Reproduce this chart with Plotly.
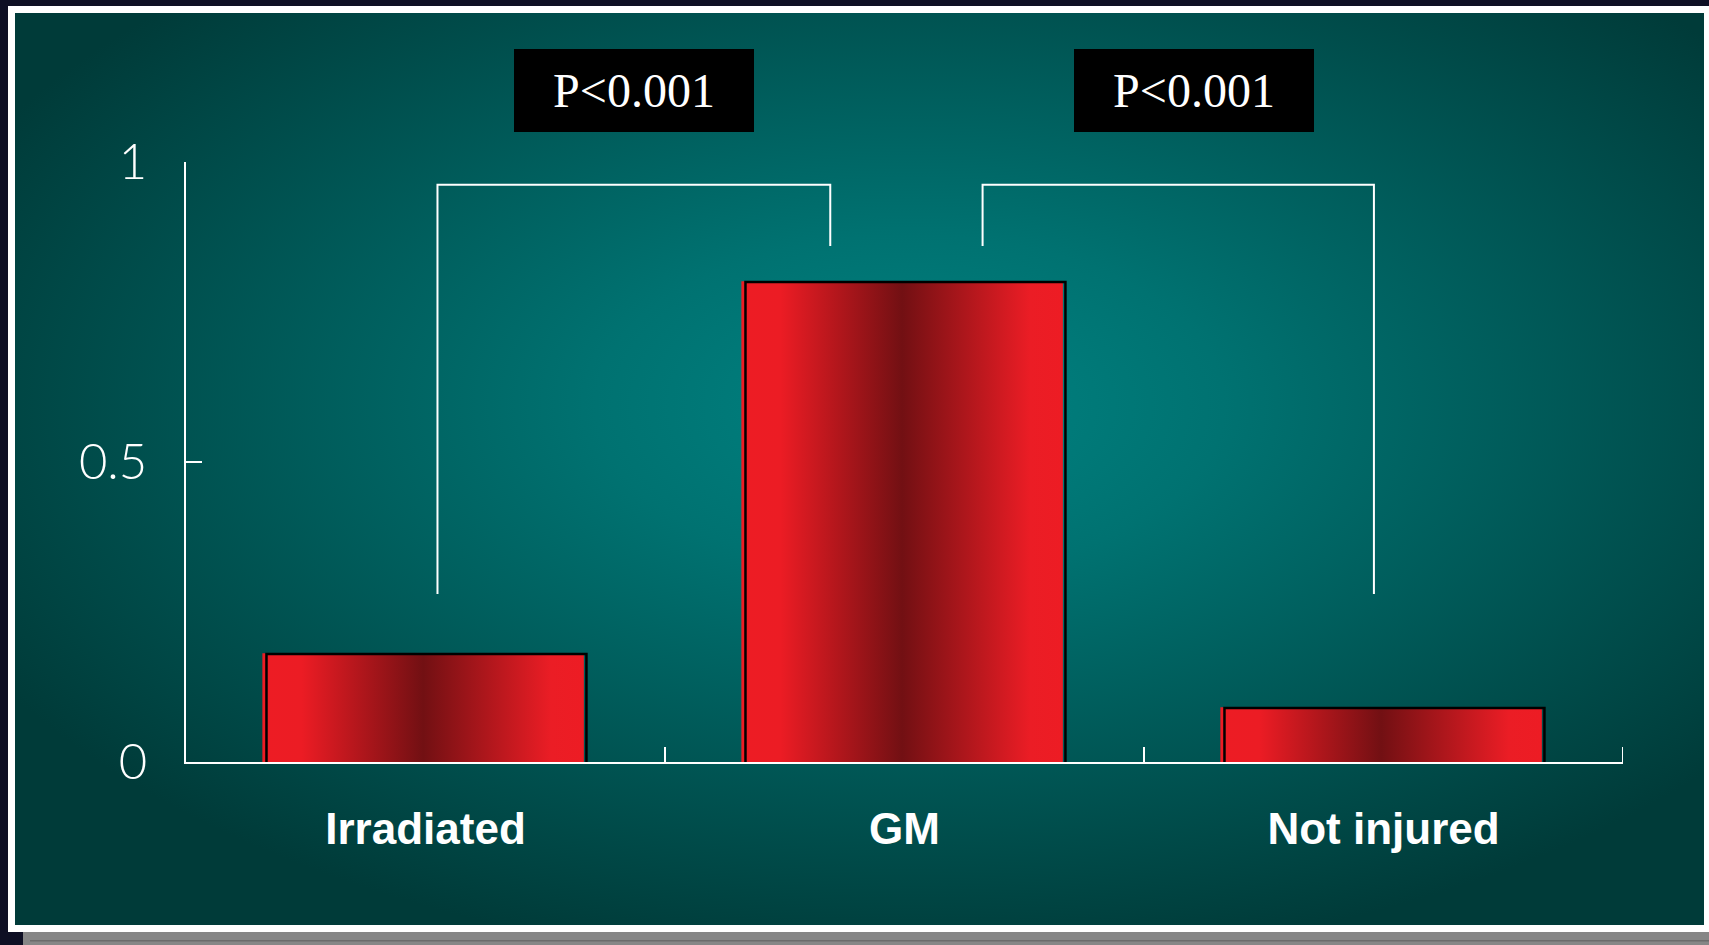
import base64
import plotly.graph_objects as go

# ---------------- data ----------------
categories = ["Irradiated", "GM", "Not injured"]
values = [0.18, 0.80, 0.09]
y_tickvals = [0, 0.5, 1]
y_ticktext = ["0", "0.5", "1"]
p_labels = ["P<0.001", "P<0.001"]
comparisons = [(0, 1), (1, 2)]
bracket_leg_ends = [(0.28, 0.86), (0.86, 0.28)]
bracket_top = 0.962

# ---------------- style ----------------
W, H = 1709, 945
ML, MR, MT, MB = 186, 86, 162, 183
PW, PH = W - ML - MR, H - MT - MB
BAR_W = 0.668
FILL_SHIFT = -0.005
OUTLINE_SHIFT = 0.002
bracket_x_offsets = [(0.025, -0.155), (0.163, -0.02)]
label_x_shift = [0.0, 0.033]

# background (frame + radial teal gradient) as an SVG image
svg = f'''<svg xmlns="http://www.w3.org/2000/svg" width="{W}" height="{H}" viewBox="0 0 {W} {H}">
<defs><radialGradient id="g" cx="0.53" cy="0.43" r="0.62">
<stop offset="0" stop-color="#008382"/>
<stop offset="0.3" stop-color="#007271"/>
<stop offset="1" stop-color="#003b39"/>
</radialGradient></defs>
<rect width="{W}" height="{H}" fill="#0e0f24"/>
<rect x="23" y="932" width="{W-23}" height="13" fill="#868686"/>
<rect x="30" y="940" width="{W-30}" height="1.5" fill="#6b6b6b"/>
<rect x="8" y="6" width="{W-8}" height="926" fill="#ffffff"/>
<rect x="15" y="13" width="1689" height="912" fill="url(#g)"/>
</svg>'''
bg_uri = "data:image/svg+xml;base64," + base64.b64encode(svg.encode()).decode()

red_scale = [[0, "#ed1c24"], [0.12, "#ec1c24"], [0.5, "#721013"],
             [0.9, "#eb1d25"], [1, "#ed1c24"]]

fig = go.Figure()

# base bars (categorical axis)
fig.add_trace(go.Bar(
    x=categories, y=values, width=BAR_W, offset=-BAR_W / 2 + FILL_SHIFT,
    marker=dict(color="#ed1c24", line=dict(color="#ed1c24", width=1.5)),
    hoverinfo="skip", showlegend=False))

# gradient fill over each bar (linear overlay axis, same positions)
for i, v in enumerate(values):
    l = i - BAR_W / 2 + FILL_SHIFT
    r = i + BAR_W / 2 + FILL_SHIFT
    fig.add_trace(go.Scatter(
        x=[l, r, r, l, l], y=[0, 0, v, v, 0], xaxis="x2", yaxis="y",
        mode="lines", line=dict(width=0), fill="toself",
        fillgradient=dict(type="horizontal", colorscale=red_scale),
        hoverinfo="skip", showlegend=False))

# black outline (shadow) of each bar
ox, oy = [], []
for i, v in enumerate(values):
    l = i - BAR_W / 2 + OUTLINE_SHIFT
    r = i + BAR_W / 2 + OUTLINE_SHIFT
    ox += [l, l, r, r, None]
    oy += [0, v, v, 0, None]
fig.add_trace(go.Scatter(
    x=ox, y=oy, xaxis="x2", yaxis="y", mode="lines",
    line=dict(color="black", width=2.5), hoverinfo="skip", showlegend=False))

# significance brackets and labels
shapes = []
annotations = []
for k, ((a, b), (ya, yb), (oa, ob)) in enumerate(zip(comparisons, bracket_leg_ends, bracket_x_offsets)):
    xa, xb = a + oa, b + ob
    shapes.append(dict(type="path", xref="x2", yref="y",
                       path=f"M {xa},{ya} L {xa},{bracket_top} L {xb},{bracket_top} L {xb},{yb}",
                       line=dict(color="white", width=2)))
    annotations.append(dict(
        x=(xa + xb) / 2 + label_x_shift[k], y=1 + (MT - 90.5) / PH,
        xref="x2", yref="paper", xanchor="center", yanchor="middle",
        text=p_labels[k], showarrow=False, width=240, height=83,
        bgcolor="black", borderpad=0, borderwidth=0,
        font=dict(family="Liberation Serif, Times New Roman, serif", size=48, color="white")))

# closing tick at the right end of the x axis (last category boundary)
last_edge = len(categories) - 0.5
shapes.append(dict(type="line", xref="x2", yref="y", x0=last_edge, x1=last_edge,
                   y0=0, y1=15 / PH, line=dict(color="white", width=2)))

fig.update_layout(
    width=W, height=H,
    margin=dict(l=ML, r=MR, t=MT, b=MB, pad=0),
    paper_bgcolor="#0e0f24", plot_bgcolor="rgba(0,0,0,0)",
    showlegend=False,
    images=[dict(source=bg_uri, xref="paper", yref="paper",
                 x=-ML / PW, y=1 + MT / PH, sizex=W / PW, sizey=H / PH,
                 xanchor="left", yanchor="top", sizing="stretch", layer="below")],
    xaxis=dict(type="category", categoryorder="array", categoryarray=categories,
               range=[-0.5, 2.5], showline=True, linecolor="white", linewidth=2,
               ticks="inside", tickson="boundaries", ticklen=15, tickwidth=2,
               tickcolor="white", showgrid=False, zeroline=False,
               tickfont=dict(family="Liberation Sans, Arial, sans-serif", size=44,
                             color="white", weight="bold"),
               ticklabelstandoff=27),
    xaxis2=dict(overlaying="x", range=[-0.5, 2.5], visible=False),
    yaxis=dict(range=[0, 1], tickvals=y_tickvals, ticktext=y_ticktext,
               showline=True, linecolor="white", linewidth=2,
               ticks="inside", ticklen=16, tickwidth=2, tickcolor="white",
               showgrid=False, zeroline=False,
               tickfont=dict(family="Lato, Liberation Sans, sans-serif", size=49,
                             color="white", weight=300),
               ticklabelstandoff=27),
    shapes=shapes, annotations=annotations,
)

fig.write_html("out.html")
